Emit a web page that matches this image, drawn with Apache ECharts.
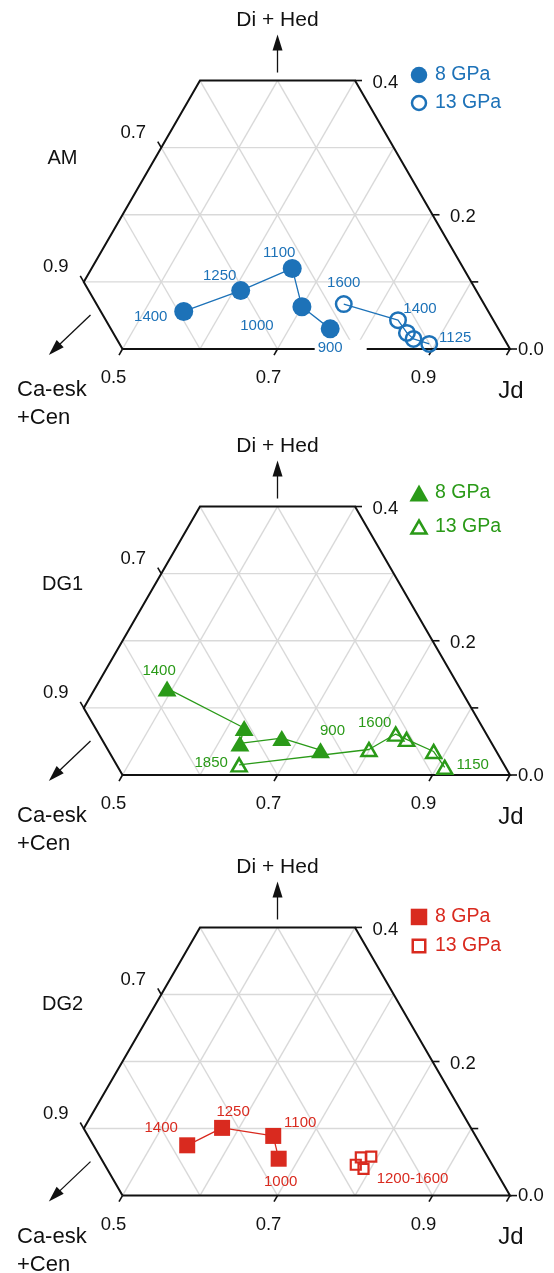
<!DOCTYPE html>
<html>
<head>
<meta charset="utf-8">
<script src="https://cdn.jsdelivr.net/npm/echarts@6/dist/echarts.min.js"></script>
<style>
  html, body { margin: 0; padding: 0; background: #fff; }
  #chart { width: 554px; height: 1273px; }
</style>
</head>
<body>
<div id="chart"></div>
<script>
// ---- data: compositions as (Jd, Di+Hed) fractions; Ca-esk+Cen = 1 - Jd - Di+Hed ----
const panelNames = ['AM', 'DG1', 'DG2'];

const amLabels8 = ['1400', '1250', '1100', '1000', '900'];
const amJd8 = [0.551, 0.609, 0.659, 0.700, 0.753];
const amDH8 = [0.056, 0.087, 0.120, 0.063, 0.030];
const amLabels13 = ['1600', '1400', '', '', '1125'];
const amJd13 = [0.752, 0.834, 0.855, 0.868, 0.892];
const amDH13 = [0.067, 0.043, 0.024, 0.015, 0.0075];

const dg1Labels8 = ['1400', '', '', '', '900'];
const dg1Jd8 = [0.493, 0.622, 0.628, 0.678, 0.737];
const dg1DH8 = [0.129, 0.070, 0.047, 0.055, 0.037];
const dg1Labels13 = ['1850', '', '1600', '', '', '1150'];
const dg1Jd13 = [0.643, 0.799, 0.822, 0.840, 0.884, 0.910];
const dg1DH13 = [0.015, 0.038, 0.061, 0.053, 0.035, 0.0115];

const dg2Labels8 = ['1400', '1250', '1100', '1000'];
const dg2Jd8 = [0.546, 0.578, 0.650, 0.674];
const dg2DH8 = [0.075, 0.101, 0.089, 0.055];
const dg2Labels13 = ['', '', '', '1200-1600'];
const dg2Jd13 = [0.792, 0.779, 0.778, 0.791];
const dg2DH13 = [0.058, 0.057, 0.046, 0.040];

// axis ticks
const jdTicks = [0.5, 0.7, 0.9, 1.0];
const jdTickLabels = ['0.5', '0.7', '0.9', ''];
const dhTicks = [0.0, 0.1, 0.2, 0.4];
const dhTickLabels = ['0.0', '', '0.2', '0.4'];
const sideTicks = [0.3, 0.1];            // Di+Hed level on the Jd = 0.4 side
const sideTickLabels = ['0.7', '0.9'];
const legendLabels = ['8 GPa', '13 GPa'];

// ---- layout & style ----
const FONT = '"Liberation Sans", Arial, Helvetica, sans-serif';
const INK = '#111111';
const MESH = '#d9d9d9';
const BLUE = '#1d72b8', GREEN = '#2a9a18', RED = '#d92a1f';
const UNIT = 775;                         // px per unit triangle side
const X_MIN = 0.35, X_MAX = 1.05, Y_MIN = -0.1, Y_MAX = 0.45;
const baselines = [349, 775, 1196];       // pixel row of each panel's Jd edge
const legendRows = [[-5.5, 22.5], [-13.5, 20.5], [-10.5, 18.5]];
const H = Math.sqrt(3) / 2;
const TICK = 7 / UNIT;

// composition -> ternary plane
function tern(jd, dh) { return [jd + dh / 2, dh * H]; }
// move a plane point by a screen offset in px
function shift(p, dx, dy) { return [p[0] + dx / UNIT, p[1] - dy / UNIT]; }

const panelStyle = [
  {
    color: BLUE,
    s8: { symbol: 'circle', size: 19 },
    s13: { symbol: 'circle', size: 15.5, border: 2.5 },
    leg8: { symbol: 'circle', size: 16.5 },
    leg13: { symbol: 'circle', size: 14, border: 2.5 },
    off8: [[-33, 5], [-21, -15], [-13, -16], [-45, 19], [0, 18.5]],
    off13: [[0, -21], [22, -11], null, null, [26, -6]],
    line13: true
  },
  {
    color: GREEN,
    s8: { symbol: 'triangle', size: [19, 16] },
    s13: { symbol: 'triangle', size: [15, 13], border: 2.5 },
    leg8: { symbol: 'triangle', size: [19, 17] },
    leg13: { symbol: 'triangle', size: [15, 13], border: 2.5 },
    off8: [[-8, -18], null, null, null, [12, -19]],
    off13: [[-28, -2], null, [-21, -11], null, null, [28, -2]],
    line13: true
  },
  {
    color: RED,
    s8: { symbol: 'rect', size: 16 },
    s13: { symbol: 'rect', size: 10, border: 2.2 },
    leg8: { symbol: 'rect', size: 16.5 },
    leg13: { symbol: 'rect', size: 12.5, border: 2.5 },
    off8: [[-26, -17], [11, -16], [27, -13], [2, 23]],
    off13: [null, null, null, [49, 10]],
    line13: false
  }
];

const panelData = [
  [amLabels8, amJd8, amDH8, amLabels13, amJd13, amDH13],
  [dg1Labels8, dg1Jd8, dg1DH8, dg1Labels13, dg1Jd13, dg1DH13],
  [dg2Labels8, dg2Jd8, dg2DH8, dg2Labels13, dg2Jd13, dg2DH13]
];

function textItem(pos, text, dx, dy, extra) {
  return {
    value: pos,
    label: Object.assign({
      show: true, formatter: text, position: 'inside', offset: [dx, dy],
      align: 'center', verticalAlign: 'middle', opacity: 1,
      fontFamily: FONT, fontSize: 18.5, color: INK
    }, extra || {})
  };
}

function segSeries(i, segs, color, width, z) {
  return {
    type: 'lines', coordinateSystem: 'cartesian2d', xAxisIndex: i, yAxisIndex: i,
    polyline: true, silent: true, clip: false, z: z,
    lineStyle: { color: color, width: width, opacity: 1 },
    data: segs.map(c => ({ coords: c }))
  };
}

function markerSeries(i, labels, jd, dh, spec, color, offsets, connect) {
  const filled = !spec.border;
  const data = jd.map((j, k) => {
    const item = { value: tern(j, dh[k]) };
    if (labels[k]) {
      const o = offsets[k] || [0, 0];
      item.label = { show: true, formatter: labels[k], offset: o };
      if (labels === amLabels8 && labels[k] === '900') {
        // the 900 label sits on a white box that breaks the Jd edge
        item.label.backgroundColor = '#fff';
        item.label.padding = [0, 24, 1, 3];
        item.label.lineHeight = 14;
        item.label.offset = [o[0] + 10.5, o[1]];
      }
    }
    return item;
  });
  return {
    type: connect ? 'line' : 'scatter',
    xAxisIndex: i, yAxisIndex: i, silent: true, clip: false, z: 5,
    symbol: spec.symbol, symbolSize: spec.size, showSymbol: true,
    itemStyle: {
      color: filled ? color : 'rgba(0,0,0,0)',
      borderColor: color, borderWidth: filled ? 0 : spec.border, opacity: 1
    },
    lineStyle: { color: color, width: 1.3, opacity: 1 },
    label: {
      show: false, position: 'inside', align: 'center', verticalAlign: 'middle',
      fontFamily: FONT, fontSize: 15, color: color, opacity: 1
    },
    data: data
  };
}

function buildPanel(i) {
  const st = panelStyle[i];
  const [l8, j8, d8, l13, j13, d13] = panelData[i];
  const series = [];

  // triangular mesh at 0.1 steps
  const mesh = [];
  [0.1, 0.2, 0.3].forEach(d => mesh.push([tern(0.4, d), tern(1 - d, d)]));
  [0.5, 0.6, 0.7, 0.8, 0.9].forEach(j => mesh.push([tern(j, 0), tern(j, Math.min(0.4, 1 - j))]));
  [0.1, 0.2, 0.3, 0.4].forEach(c => {
    const d = Math.min(0.4, 0.6 - c);
    mesh.push([tern(1 - c, 0), tern(1 - c - d, d)]);
  });
  series.push(segSeries(i, mesh, MESH, 1.4, 1));

  // outline of the truncated triangle
  const outline = [tern(0.5, 0), tern(1, 0), tern(0.6, 0.4), tern(0.4, 0.4), tern(0.4, 0.1), tern(0.5, 0)];
  series.push(segSeries(i, [outline], INK, 2, 2));

  // ticks
  const ticks = [];
  jdTicks.forEach(j => ticks.push([tern(j, 0), tern(j, -TICK)]));
  dhTicks.forEach(d => ticks.push([tern(1 - d, d), tern(1 - d + TICK, d)]));
  sideTicks.forEach(d => ticks.push([tern(0.4, d), tern(0.4 - TICK, d + TICK)]));
  series.push(segSeries(i, ticks, INK, 1.6, 2));

  // arrows: shafts + heads
  const top = tern(0.5, 0.4);
  const corner = tern(0.5, 0);
  const shafts = [
    [shift(top, 0, -8), shift(top, 0, -38)],
    [shift(corner, -32, -34), shift(corner, -68, 0.3)]
  ];
  series.push(segSeries(i, shafts, INK, 1.3, 2));
  series.push({
    type: 'scatter', xAxisIndex: i, yAxisIndex: i, silent: true, clip: false, z: 2,
    symbol: 'triangle', symbolSize: [10, 16],
    itemStyle: { color: INK, opacity: 1 },
    data: [
      { value: shift(top, 0, -38), symbolRotate: 0 },
      { value: shift(corner, -68, 0.3), symbolRotate: 135 }
    ]
  });

  // axis text
  const texts = [];
  jdTicks.forEach((j, k) => {
    if (jdTickLabels[k]) texts.push(textItem(tern(j, 0), jdTickLabels[k], -9, 29));
  });
  dhTicks.forEach((d, k) => {
    if (!dhTickLabels[k]) return;
    const dx = d === 0 ? 8 : 17.5;
    const dy = d === 0 ? 0.5 : 2;
    texts.push(textItem(tern(1 - d, d), dhTickLabels[k], dx, dy, { align: 'left' }));
  });
  sideTicks.forEach((d, k) => texts.push(textItem(tern(0.4, d), sideTickLabels[k], -28, -15)));
  texts.push(textItem(top, 'Di + Hed', 0, -60, { fontSize: 21 }));
  texts.push(textItem(corner, 'Ca-esk', -105.5, 41, { align: 'left', fontSize: 22 }));
  texts.push(textItem(corner, '+Cen', -105.5, 69, { align: 'left', fontSize: 22 }));
  texts.push(textItem(tern(1, 0), 'Jd', 1, 42, { fontSize: 24 }));
  texts.push(textItem(corner, panelNames[i], -60, -191, { fontSize: 20 }));

  // legend
  const legCorner = tern(0.6, 0.4);
  const rows = legendRows[i];
  legendLabels.forEach((lab, k) => {
    texts.push(textItem(shift(legCorner, 80, rows[k]), lab, 0, 0, { align: 'left', fontSize: 19.5, color: st.color }));
  });
  series.push({
    type: 'scatter', xAxisIndex: i, yAxisIndex: i, silent: true, clip: false, z: 4,
    symbolSize: 1, itemStyle: { color: 'rgba(0,0,0,0)', opacity: 1 }, data: texts
  });
  const legSpec = [st.leg8, st.leg13];
  series.push({
    type: 'scatter', xAxisIndex: i, yAxisIndex: i, silent: true, clip: false, z: 4,
    data: legSpec.map((s, k) => ({
      value: shift(legCorner, 64, rows[k]),
      symbol: s.symbol, symbolSize: s.size,
      itemStyle: s.border
        ? { color: 'rgba(0,0,0,0)', borderColor: st.color, borderWidth: s.border, opacity: 1 }
        : { color: st.color, borderWidth: 0, opacity: 1 }
    }))
  });

  // measured compositions
  series.push(markerSeries(i, l8, j8, d8, st.s8, st.color, st.off8, true));
  series.push(markerSeries(i, l13, j13, d13, st.s13, st.color, st.off13, st.line13));
  return series;
}

const chart = echarts.init(document.getElementById('chart'), null, { renderer: 'canvas' });
const option = {
  animation: false,
  backgroundColor: '#fff',
  grid: baselines.map(yb => ({
    left: 6.25, width: (X_MAX - X_MIN) * UNIT,
    top: yb - Y_MAX * UNIT, height: (Y_MAX - Y_MIN) * UNIT
  })),
  xAxis: baselines.map((_, i) => ({ type: 'value', gridIndex: i, min: X_MIN, max: X_MAX, show: false })),
  yAxis: baselines.map((_, i) => ({ type: 'value', gridIndex: i, min: Y_MIN, max: Y_MAX, show: false })),
  series: [].concat(buildPanel(0), buildPanel(1), buildPanel(2))
};
chart.setOption(option);
</script>
</body>
</html>
